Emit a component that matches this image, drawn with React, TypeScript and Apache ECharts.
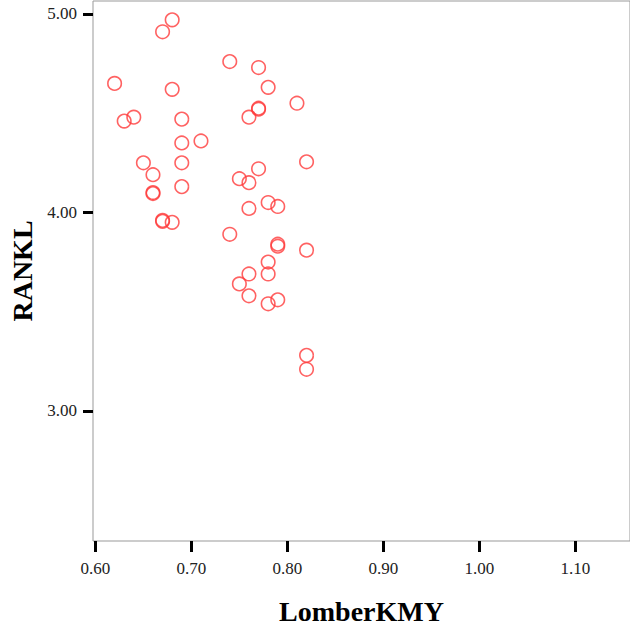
import React, { useEffect, useRef } from "react";
import * as echarts from "echarts";

const xTicks = [0.6, 0.7, 0.8, 0.9, 1.0, 1.1];
const yTicks = [3, 4, 5];

const lomberKMY = [
  0.68, 0.67, 0.62, 0.68, 0.64, 0.63, 0.69,
  0.74, 0.77, 0.78, 0.81, 0.77, 0.77, 0.76,
  0.69, 0.71, 0.65, 0.69, 0.66, 0.69, 0.66, 0.66, 0.67, 0.67, 0.68,
  0.82, 0.77, 0.75, 0.76, 0.78, 0.79, 0.76, 0.74,
  0.79, 0.79, 0.82, 0.78, 0.76, 0.78, 0.75, 0.76, 0.79, 0.78,
  0.82, 0.82,
];
const rankl = [
  4.97, 4.91, 4.65, 4.62, 4.48, 4.46, 4.47,
  4.76, 4.73, 4.63, 4.55, 4.52, 4.525, 4.48,
  4.35, 4.36, 4.25, 4.25, 4.19, 4.13, 4.1, 4.095, 3.96, 3.955, 3.95,
  4.255, 4.22, 4.17, 4.15, 4.05, 4.03, 4.02, 3.89,
  3.84, 3.83, 3.81, 3.75, 3.69, 3.69, 3.64, 3.58, 3.56, 3.54,
  3.28, 3.21,
];

const serif = "'Liberation Serif', 'Times New Roman', serif";

export default function App() {
  const ref = useRef<HTMLDivElement>(null);
  useEffect(() => {
    document.body.style.margin = "0";
    if (!ref.current) return;
    const chart = echarts.init(ref.current, null, { renderer: "svg" });
    const data = lomberKMY.map((x, i) => [x, rankl[i]]);
    chart.setOption({
      animation: false,
      backgroundColor: "#fff",
      grid: {
        left: 93,
        top: 1,
        right: 0,
        bottom: 94,
        show: true,
        borderColor: "#999",
        borderWidth: 1,
        backgroundColor: "#fff",
      },
      xAxis: {
        type: "value",
        min: 0.5975,
        max: 1.157,
        name: "LomberKMY",
        nameLocation: "middle",
        nameGap: 56,
        nameTextStyle: { fontFamily: serif, fontSize: 28, fontWeight: "bold", color: "#000" },
        axisLine: { show: false },
        splitLine: { show: false },
        axisTick: {
          show: true,
          length: 11,
          lineStyle: { color: "#000", width: 3 },
          customValues: xTicks,
        },
        axisLabel: {
          customValues: xTicks,
          margin: 19,
          fontFamily: serif,
          fontSize: 17,
          color: "#222",
          formatter: (v: number) => v.toFixed(2),
        },
      },
      yAxis: {
        type: "value",
        min: 2.345,
        max: 5.065,
        name: "RANKL",
        nameLocation: "middle",
        nameGap: 56,
        nameRotate: 90,
        nameTextStyle: { fontFamily: serif, fontSize: 28, fontWeight: "bold", color: "#000" },
        axisLine: { show: false },
        splitLine: { show: false },
        axisTick: {
          show: true,
          length: 10,
          lineStyle: { color: "#000", width: 3 },
          customValues: yTicks,
        },
        axisLabel: {
          customValues: yTicks,
          margin: 16,
          fontFamily: serif,
          fontSize: 17,
          color: "#222",
          formatter: (v: number) => v.toFixed(2),
        },
      },
      series: [
        {
          type: "scatter",
          data,
          symbol: "circle",
          symbolSize: 13.5,
          itemStyle: {
            color: "rgba(255,255,255,0)",
            borderColor: "#ff3b3b",
            borderWidth: 1.6,
          },
        },
      ],
    });
    return () => chart.dispose();
  }, []);
  return <div ref={ref} style={{ width: 630, height: 635 }} />;
}
